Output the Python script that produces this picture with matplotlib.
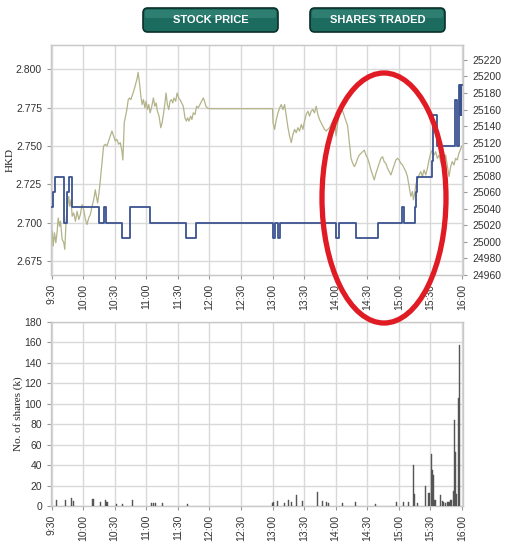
import matplotlib
matplotlib.use("Agg")
import matplotlib.pyplot as plt
from matplotlib.patches import FancyBboxPatch, Ellipse
import numpy as np

# ---------------- data ----------------
time_labels = ["9:30", "10:00", "10:30", "11:00", "11:30", "12:00", "12:30",
               "13:00", "13:30", "14:00", "14:30", "15:00", "15:30", "16:00"]
tick_minutes = [0, 30, 60, 90, 120, 150, 180, 210, 240, 270, 300, 330, 360, 390]

# stock price (HKD, left axis) - stepped, minutes since 9:30
price_t = [0, 1.5, 3, 12, 15, 16.5, 19.5, 45, 50, 52,
           67, 75, 94, 128, 137, 210.5, 212, 215.2, 216.8, 270,
           273, 289, 310, 333, 335, 345, 346, 347, 361.5, 362.5,
           366.5, 383, 385, 387, 387.7, 388.3, 389, 389.5, 390]
price_v = [2.71, 2.72, 2.73, 2.70, 2.72, 2.73, 2.71, 2.70, 2.71, 2.70,
           2.69, 2.71, 2.70, 2.69, 2.70, 2.69, 2.70, 2.69, 2.70, 2.69,
           2.70, 2.69, 2.70, 2.71, 2.70, 2.71, 2.72, 2.73, 2.74, 2.77,
           2.75, 2.78, 2.75, 2.79, 2.77, 2.79, 2.77, 2.79, 2.79]

# index (right axis)
index_am_t = [0.6, 1.6, 2.8, 4.1, 5.4, 6.3, 7.6, 8.5, 10.1, 11.7,
              12.6, 13.9, 14.8, 16.4, 17.3, 18.6, 19.6, 21.1, 22.7, 24.3,
              25.9, 27.4, 29.0, 30.6, 32.2, 33.7, 35.3, 36.9, 38.5, 40.1,
              41.6, 42.6, 43.8, 45.1, 46.4, 47.9, 49.5, 51.1, 52.7, 54.3,
              55.8, 57.4, 59.0, 60.6, 62.1, 63.7, 65.3, 66.9, 67.8, 69.1,
              70.3, 71.6, 72.9, 74.1, 75.4, 77.0, 78.5, 80.1, 81.4, 82.3,
              83.6, 84.9, 86.1, 87.4, 88.7, 89.9, 91.2, 92.4, 93.7, 95.3,
              96.8, 98.1, 99.4, 100.6, 102.2, 103.8, 105.1, 106.3, 107.6, 108.8,
              110.1, 111.4, 112.6, 113.9, 115.2, 116.4, 118.0, 119.3, 120.8, 122.1,
              123.7, 125.2, 126.8, 128.1, 129.3, 130.6, 132.2, 133.4, 134.7, 136.3,
              137.9, 139.4, 141.0, 142.6, 144.2, 145.4, 146.7, 148.0, 150.0]
index_am_v = [25013, 24995, 25011, 24999, 25013, 25029, 25019, 25025, 25003, 24999,
              24991, 25027, 25039, 25055, 25043, 25051, 25031, 25035, 25025, 25037,
              25027, 25033, 25045, 25039, 25027, 25021, 25029, 25033, 25043, 25051,
              25063, 25055, 25047, 25059, 25075, 25095, 25116, 25118, 25116, 25122,
              25128, 25134, 25128, 25122, 25124, 25118, 25120, 25110, 25099, 25144,
              25152, 25160, 25172, 25174, 25172, 25178, 25184, 25192, 25198, 25205,
              25192, 25176, 25166, 25172, 25162, 25170, 25160, 25166, 25156, 25164,
              25174, 25164, 25168, 25158, 25152, 25138, 25144, 25154, 25166, 25180,
              25166, 25160, 25170, 25172, 25168, 25174, 25170, 25180, 25174, 25172,
              25168, 25164, 25150, 25146, 25150, 25146, 25152, 25148, 25156, 25154,
              25164, 25162, 25166, 25170, 25174, 25170, 25164, 25162, 25161]
index_pm_t = [210.0, 210.5, 212.0, 213.6, 215.2, 216.8, 218.3, 219.9, 221.5, 223.1,
              224.7, 226.2, 227.8, 229.4, 231.0, 232.5, 234.1, 235.7, 237.3, 238.9,
              240.4, 242.0, 243.6, 245.2, 246.7, 248.3, 249.9, 251.5, 253.1, 254.6,
              256.2, 257.8, 259.4, 261.0, 262.5, 264.1, 265.7, 267.3, 268.8, 270.4,
              272.0, 273.6, 275.1, 276.7, 278.3, 279.9, 281.4, 283.0, 284.6, 286.2,
              287.8, 289.3, 290.9, 292.5, 294.1, 295.6, 297.2, 298.8, 300.4, 301.9,
              303.5, 305.1, 306.7, 308.3, 309.8, 311.4, 313.0, 314.6, 316.1, 317.7,
              319.3, 320.9, 322.5, 324.0, 325.6, 327.2, 328.8, 330.3, 331.9, 333.5,
              335.1, 336.7, 338.2, 339.8, 341.4, 343.0, 343.9, 345.2, 346.1, 347.7,
              349.3, 350.9, 352.4, 354.0, 355.6, 357.2, 358.7, 360.3, 361.9, 363.5,
              365.1, 366.6, 368.2, 369.8, 371.4, 373.0, 374.5, 377.7, 379.3, 380.8,
              382.4, 384.0, 385.6, 387.1, 388.7, 390.0]
index_pm_v = [25161, 25144, 25136, 25148, 25156, 25162, 25166, 25160, 25166, 25152,
              25138, 25128, 25120, 25130, 25136, 25132, 25138, 25134, 25142, 25136,
              25146, 25154, 25158, 25152, 25158, 25160, 25156, 25164, 25154, 25148,
              25144, 25140, 25136, 25134, 25136, 25138, 25142, 25146, 25150, 25128,
              25144, 25156, 25160, 25158, 25152, 25146, 25140, 25120, 25101, 25095,
              25091, 25095, 25101, 25105, 25107, 25109, 25111, 25105, 25101, 25095,
              25087, 25081, 25075, 25083, 25089, 25095, 25101, 25103, 25097, 25095,
              25089, 25085, 25081, 25087, 25093, 25099, 25101, 25099, 25095, 25093,
              25089, 25085, 25079, 25067, 25055, 25061, 25051, 25059, 25069, 25075,
              25081, 25085, 25079, 25087, 25081, 25089, 25099, 25107, 25111, 25105,
              25109, 25101, 25105, 25097, 25091, 25097, 25105, 25079, 25091, 25097,
              25093, 25101, 25099, 25107, 25112, 25116]

# shares traded (thousands)
vol_t = [4.4, 13.3, 18.9, 20.5, 39.4, 46.4, 51.1, 52.7, 62.1, 67.8,
         76.7, 95.3, 96.8, 99, 105.7, 129, 209.8, 211.1, 214.6, 221.5,
         225.6, 228.4, 233.2, 238.2, 252.4, 257.2, 260.9, 262.8, 276.7, 288.7,
         307.9, 327.8, 334.5, 339.5, 343.9, 344.9, 348, 355.6, 358.7, 361.3,
         362.2, 363.2, 364.4, 369.8, 371.4, 372.9, 374.5, 376.1, 377.7, 379.3,
         380.2, 381.8, 383.0, 384.0, 384.9, 386.5, 387.5]
vol_k = [5.5, 5.5, 7.8, 4.6, 6.5, 3.6, 5.5, 3.9, 2.3, 2.3,
         6.2, 2.6, 2.6, 3.3, 2.6, 2.3, 2.9, 3.9, 5.2, 3.3,
         6.2, 3.6, 10.5, 4.6, 13.4, 4.6, 3.6, 2.6, 3.3, 3.6,
         2.3, 3.6, 3.6, 3.9, 40.5, 11.4, 3.3, 19.3, 13.1, 51.3,
         34.9, 30.0, 6.2, 10.5, 4.9, 3.9, 3.3, 3.6, 3.9, 5.6,
         6.2, 14.4, 83.9, 52.9, 12.1, 106.1, 157.4]

button_labels = ["STOCK PRICE", "SHARES TRADED"]

# ---------------- style ----------------
W, H = 519, 557
fig = plt.figure(figsize=(W / 100, H / 100), dpi=100)
fig.patch.set_facecolor("white")
tick_font = {"family": "Liberation Sans", "size": 7.5}
grid_c = "#d9d9d9"
spine_c = "#c8c8c8"
label_c = "#333333"

def px_axes(left, top, right, bottom):
    return fig.add_axes([left / W, 1 - bottom / H, (right - left) / W, (bottom - top) / H])

def style_axes(ax):
    for s in ax.spines.values():
        s.set_color(spine_c)
        s.set_linewidth(1.0)
    ax.grid(True, color=grid_c, linewidth=1.0)
    ax.set_axisbelow(True)
    ax.tick_params(colors="#999999", labelcolor=label_c, length=3, width=0.8)
    ax.set_xlim(-0.5, 391)
    ax.set_xticks(tick_minutes)
    ax.set_xticklabels(time_labels, rotation=90, fontdict=tick_font)

# ---------------- top chart ----------------
ax1 = px_axes(51, 45, 463, 275)
style_axes(ax1)
ax1.set_ylim(2.666, 2.8159)
ax1.set_yticks([2.675, 2.700, 2.725, 2.750, 2.775, 2.800])
ax1.set_yticklabels([f"{v:.3f}" for v in ax1.get_yticks()], fontdict=tick_font)
ax1.set_ylabel("HKD", family="Liberation Serif", fontsize=8, color="#222222", labelpad=1)

ax2 = ax1.twinx()
ax2.set_ylim(24961, 25238)
ax2.set_yticks(np.arange(24960, 25221, 20))
ax2.set_yticklabels([str(v) for v in range(24960, 25221, 20)], fontdict=tick_font)
ax2.tick_params(colors="#999999", labelcolor=label_c, length=3, width=0.8)
for s in ax2.spines.values():
    s.set_color(spine_c)
ax1.set_zorder(ax2.get_zorder() + 1)
ax1.patch.set_visible(False)

# index line drawn in ax1 (above its grid) but scaled by the right axis
ax1.plot(index_am_t + index_pm_t, index_am_v + index_pm_v, color="#b3b38a",
         linewidth=0.9, zorder=2, transform=ax2.transData)
ax1.set_ylim(2.666, 2.8159)
ax1.step(price_t, price_v, where="post", color="#3b5390", linewidth=1.3, zorder=3)

# ---------------- bottom chart ----------------
ax3 = px_axes(51, 322, 463, 506)
style_axes(ax3)
ax3.set_ylim(0, 180)
ax3.set_yticks(range(0, 181, 20))
ax3.set_yticklabels([str(v) for v in range(0, 181, 20)], fontdict=tick_font)
ax3.set_ylabel("No. of shares (k)", family="Liberation Serif", fontsize=8, color="#222222", labelpad=1)
ax3.bar(vol_t, vol_k, width=1.0, color="#555555", edgecolor="#555555", linewidth=0.3, zorder=3)

# ---------------- buttons ----------------
for lbl, (x0, x1) in zip(button_labels, [(143, 278), (310, 445)]):
    y0, y1 = 8, 32
    b = FancyBboxPatch((x0 / W, 1 - y1 / H), (x1 - x0) / W, (y1 - y0) / H,
                       boxstyle="round,pad=0,rounding_size=0.009",
                       transform=fig.transFigure, facecolor="#1b6b5f",
                       edgecolor="#0b302a", linewidth=1.2, zorder=5)
    fig.patches.append(b)
    hl = FancyBboxPatch(((x0 + 2) / W, 1 - (y0 + 10) / H), (x1 - x0 - 4) / W, 8 / H,
                        boxstyle="round,pad=0,rounding_size=0.004",
                        transform=fig.transFigure, facecolor="#3f8f83",
                        edgecolor="none", alpha=0.55, zorder=6)
    fig.patches.append(hl)
    fig.text((x0 + x1) / 2 / W, 1 - (y0 + y1) / 2 / H, lbl, ha="center", va="center",
             color="white", fontsize=8, fontweight="bold", family="Liberation Sans", zorder=7)

# ---------------- red annotation ellipse ----------------
ell = Ellipse((384 / W, 1 - 198 / H), 124 / W, 250 / H, transform=fig.transFigure,
              fill=False, edgecolor="#e01b24", linewidth=3.8, zorder=10)
fig.patches.append(ell)

fig.savefig("out.png", dpi=100, facecolor="white")
